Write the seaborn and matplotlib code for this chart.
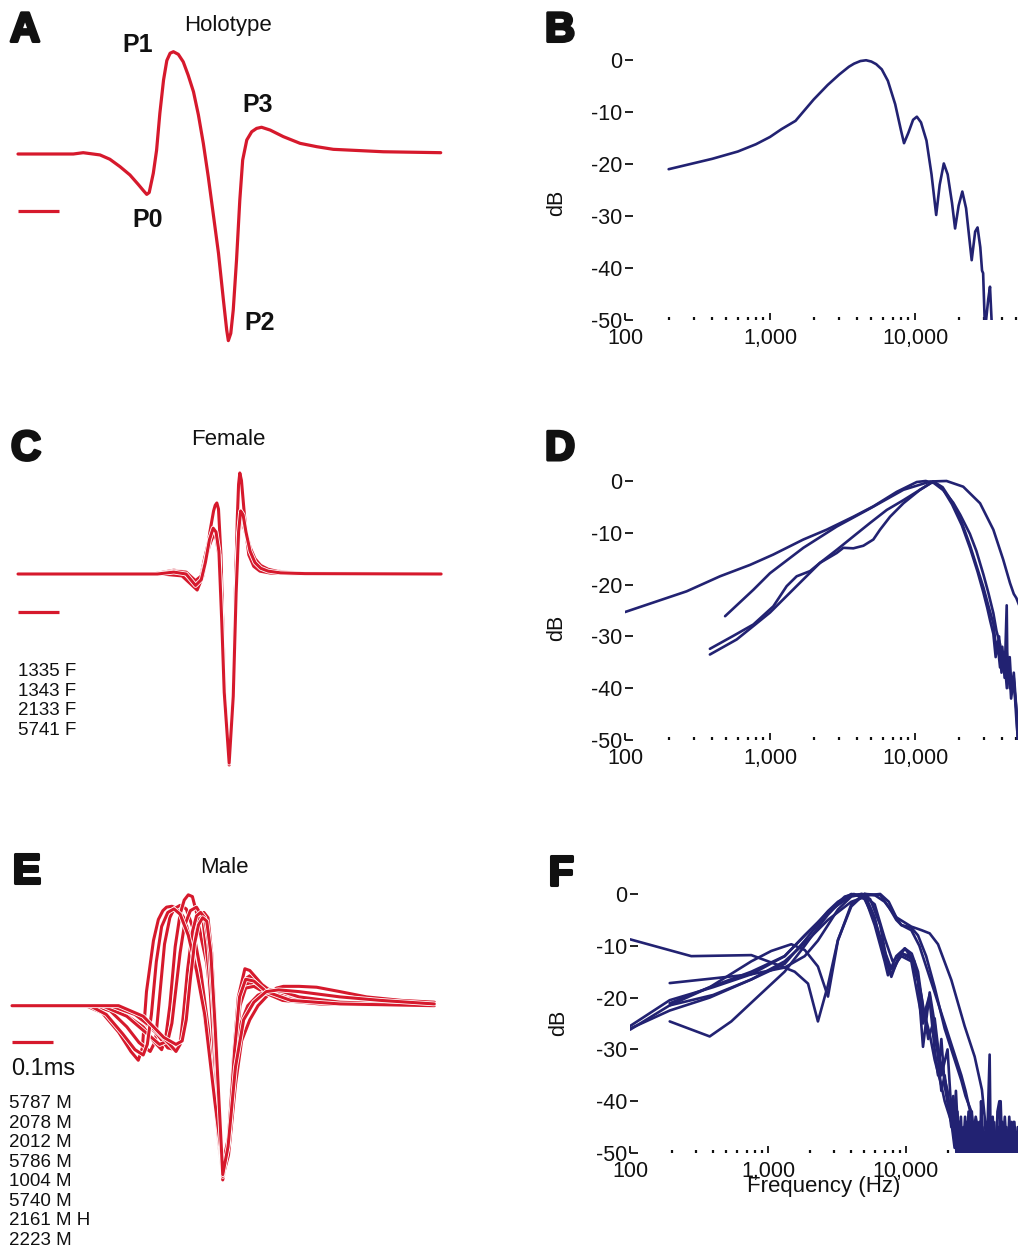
import numpy as np
import pandas as pd
import matplotlib
matplotlib.use("Agg")
import matplotlib.pyplot as plt
import matplotlib.patheffects as pe
from matplotlib.ticker import FixedLocator, LogLocator, NullFormatter, FuncFormatter
import seaborn as sns

# ---------------------------------------------------------------- data
panel_letters = ["A", "B", "C", "D", "E", "F"]
wave_titles = ["Holotype", "Female", "Male"]
peak_labels = ["P0", "P1", "P2", "P3"]
peak_label_t = [0.317, 0.293, 0.590, 0.585]
peak_label_a = [-0.353, 0.583, -0.904, 0.262]
female_ids = ["1335 F", "1343 F", "2133 F", "5741 F"]
male_ids = ["5787 M", "2078 M", "2012 M", "5786 M", "1004 M", "5740 M", "2161 M H", "2223 M"]
scale_bar_ms = 0.1
scale_bar_text = "0.1ms"
freq_ticks = [100, 1000, 10000, 100000]
db_ticks = [0, -10, -20, -30, -40, -50]

# Panel A: holotype waveform (time in ms, amplitude relative to P2)
holo_t = [0.0, 0.135, 0.159, 0.2, 0.224, 0.249, 0.273, 0.293, 0.306, 0.314, 0.320, 0.330, 0.338,
          0.346, 0.355, 0.363, 0.371, 0.379, 0.391, 0.403, 0.415, 0.428, 0.440, 0.452, 0.464,
          0.476, 0.489, 0.501, 0.509, 0.513, 0.519, 0.525, 0.533, 0.541, 0.548, 0.558, 0.570,
          0.582, 0.594, 0.615, 0.647, 0.688, 0.729, 0.769, 0.891, 1.031]
holo_a = [0.0, 0.0, 0.007, -0.005, -0.028, -0.068, -0.112, -0.162, -0.196, -0.216, -0.206, -0.103,
          0.02, 0.218, 0.396, 0.50, 0.539, 0.547, 0.533, 0.493, 0.422, 0.333, 0.209, 0.057, -0.121,
          -0.317, -0.531, -0.781, -0.941, -0.998, -0.959, -0.834, -0.567, -0.246, -0.032, 0.075,
          0.119, 0.137, 0.143, 0.128, 0.093, 0.057, 0.039, 0.025, 0.012, 0.007]

# Panel B: holotype spectrum
holo_hz = [200, 400, 600, 800, 1000, 1200, 1500, 2000, 2500, 3000, 3500, 3800, 4200, 4600, 5000,
           5400, 5900, 6500, 7300, 8000, 8400, 9000, 9700, 10300, 11000, 12000, 13000, 14000, 14800,
           15800, 16800, 18000, 18900, 20000, 21200, 22500, 24600, 26000, 27000, 28200, 29000,
           29500, 30400, 32000, 32900, 34000]
holo_db = [-21.0, -19.0, -17.6, -16.2, -14.8, -13.3, -11.7, -7.6, -4.8, -2.8, -1.3, -0.7, -0.2,
           -0.05, -0.3, -0.8, -1.8, -4.0, -8.5, -13.5, -16.0, -14.0, -11.5, -10.9, -12.0, -15.5,
           -22.0, -29.8, -24.0, -19.9, -22.0, -27.5, -32.4, -28.0, -25.3, -28.5, -38.5, -33.0,
           -32.2, -36.0, -40.5, -41.0, -52.0, -46.0, -43.6, -52.0]

# Panel C: female waveforms
f1_t = [0.0, 0.35, 0.40, 0.42, 0.437, 0.451, 0.46, 0.468, 0.477, 0.481, 0.485, 0.489, 0.495, 0.50,
        0.505, 0.515, 0.524, 0.53, 0.535, 0.538, 0.541, 0.545, 0.551, 0.557, 0.563, 0.575, 0.59,
        0.615, 0.70, 1.032]
f1_a = [0.0, 0.0, -0.01, -0.05, -0.084, -0.01, 0.10, 0.22, 0.33, 0.36, 0.372, 0.34, 0.10, -0.30,
        -0.66, -1.0, -0.66, -0.10, 0.30, 0.47, 0.529, 0.49, 0.34, 0.20, 0.10, 0.04, 0.015, 0.005,
        0.0, 0.0]
f2_t = [0.0, 0.33, 0.38, 0.41, 0.432, 0.445, 0.455, 0.465, 0.475, 0.482, 0.49, 0.497, 0.503, 0.515,
        0.525, 0.532, 0.538, 0.544, 0.55, 0.56, 0.572, 0.585, 0.60, 0.62, 0.65, 0.70, 1.032]
f2_a = [0.0, 0.0, 0.02, 0.01, -0.05, -0.02, 0.08, 0.17, 0.22, 0.20, 0.10, -0.25, -0.60, -0.97,
        -0.62, -0.10, 0.20, 0.28, 0.25, 0.18, 0.10, 0.06, 0.035, 0.02, 0.01, 0.005, 0.0]
f3_t = [0.0, 0.34, 0.38, 0.41, 0.433, 0.447, 0.457, 0.467, 0.476, 0.483, 0.49, 0.497, 0.503, 0.515,
        0.525, 0.532, 0.538, 0.543, 0.549, 0.556, 0.566, 0.578, 0.592, 0.61, 0.64, 0.70, 1.032]
f3_a = [0.0, 0.0, 0.015, 0.01, -0.035, -0.01, 0.07, 0.15, 0.20, 0.19, 0.10, -0.25, -0.60, -0.98,
        -0.62, -0.10, 0.18, 0.30, 0.29, 0.22, 0.14, 0.08, 0.045, 0.025, 0.01, 0.003, 0.0]
f4_t = [0.0, 0.34, 0.38, 0.41, 0.433, 0.447, 0.457, 0.467, 0.476, 0.483, 0.49, 0.497, 0.503, 0.515,
        0.525, 0.532, 0.538, 0.543, 0.549, 0.556, 0.566, 0.578, 0.592, 0.61, 0.64, 0.70, 1.032]
f4_a = [0.0, 0.0, 0.01, 0.0, -0.06, -0.03, 0.06, 0.18, 0.24, 0.22, 0.12, -0.25, -0.62, -0.99,
        -0.64, -0.10, 0.22, 0.33, 0.31, 0.22, 0.12, 0.06, 0.03, 0.015, 0.006, 0.002, 0.0]

# Panel D: female spectra
fs1_hz = [100, 266, 452, 728, 1054, 1698, 2460, 3756, 5160, 7480, 10280, 11860, 13500, 15700, 18370,
          20500, 23900, 26500, 29600, 32000, 34700, 36500, 38600, 40500, 42900, 45000, 47700, 50000, 53000]
fs1_db = [-25.3, -21.3, -18.4, -16.2, -14.2, -11.3, -9.4, -6.9, -4.9, -2.1, -0.2, 0.0, -0.4, -1.8, -4.2,
          -6.5, -10.2, -13.5, -18.0, -21.5, -25.5, -29.0, -31.5, -35.0, -33.0, -40.0, -38.0, -44.0, -52.0]
fs2_hz = [490, 768, 1000, 1698, 2884, 4900, 8320, 12760, 16500, 21500, 28100, 34700, 40600, 45200,
          48000, 50000, 54000]
fs2_db = [-26.1, -21.0, -17.8, -12.9, -8.8, -5.3, -1.7, -0.1, 0.0, -1.1, -4.3, -9.4, -15.2, -19.7,
          -21.8, -22.6, -25.0]
fs3_hz = [385, 558, 768, 1054, 1303, 1527, 1888, 2213, 2884, 3206, 3756, 4405, 5160, 5740, 6730, 8320,
          10830, 13370, 15500, 18000, 21000, 24000, 27000, 29600, 31500, 33000, 34700, 36000, 37000,
          38600, 40000, 41500, 42900, 43500, 45000, 46500, 48000, 50000, 52000]
fs3_db = [-32.4, -29.9, -27.7, -24.2, -20.3, -18.4, -17.4, -15.8, -13.9, -12.9, -13.0, -12.5, -11.3,
          -9.4, -6.9, -4.3, -1.7, -0.1, -1.5, -4.5, -8.5, -13.0, -17.5, -21.5, -24.5, -27.0, -29.5,
          -34.0, -31.0, -36.0, -32.0, -38.0, -24.0, -39.0, -34.0, -41.0, -37.0, -44.0, -55.0]
fs4_hz = [385, 589, 768, 1000, 1303, 1698, 2213, 2884, 3756, 4900, 6380, 8320, 10830, 13370, 15500,
          18000, 21000, 24000, 27000, 29600, 32000, 34700, 36500, 38000, 39500, 41000, 43000, 44500,
          46000, 48000, 50000, 52000]
fs4_db = [-33.5, -30.6, -28.0, -25.4, -22.2, -19.0, -15.8, -13.3, -10.7, -8.1, -5.6, -3.7, -1.7, -0.1,
          -1.2, -4.0, -8.0, -12.5, -17.0, -20.5, -24.0, -27.5, -33.0, -30.0, -37.0, -33.0, -40.0, -35.0,
          -42.0, -38.0, -46.0, -52.0]

# Panel E: male waveforms
m1_t = [0.0, 0.18, 0.22, 0.26, 0.29, 0.308, 0.318, 0.328, 0.345, 0.357, 0.368, 0.377, 0.39, 0.405,
        0.422, 0.442, 0.467, 0.491, 0.505, 0.514, 0.522, 0.533, 0.545, 0.555, 0.568, 0.58, 0.60,
        0.64, 0.70, 0.80, 1.03]
m1_a = [0.0, 0.0, -0.04, -0.15, -0.26, -0.31, -0.24, 0.08, 0.37, 0.49, 0.54, 0.56, 0.565, 0.55,
        0.49, 0.30, -0.02, -0.45, -0.80, -0.96, -0.90, -0.55, -0.15, 0.05, 0.15, 0.17, 0.14, 0.07,
        0.03, 0.01, 0.0]
m2_t = [0.0, 0.20, 0.24, 0.28, 0.31, 0.337, 0.35, 0.36, 0.372, 0.385, 0.395, 0.41, 0.425, 0.44,
        0.46, 0.48, 0.497, 0.514, 0.528, 0.545, 0.555, 0.568, 0.58, 0.61, 0.65, 0.75, 1.03]
m2_a = [0.0, 0.0, -0.03, -0.12, -0.21, -0.26, -0.20, 0.05, 0.35, 0.50, 0.55, 0.57, 0.55, 0.45,
        0.20, -0.15, -0.60, -0.97, -0.80, -0.25, 0.03, 0.12, 0.13, 0.09, 0.04, 0.01, 0.0]
m3_t = [0.0, 0.22, 0.27, 0.32, 0.345, 0.365, 0.375, 0.385, 0.398, 0.41, 0.42, 0.43, 0.44, 0.45,
        0.462, 0.475, 0.487, 0.497, 0.506, 0.514, 0.525, 0.54, 0.552, 0.568, 0.58, 0.61, 0.65,
        0.75, 1.03]
m3_a = [0.0, 0.0, -0.04, -0.12, -0.20, -0.25, -0.18, 0.0, 0.335, 0.52, 0.60, 0.63, 0.62, 0.53,
        0.38, 0.24, 0.0, -0.35, -0.75, -0.99, -0.85, -0.30, 0.05, 0.21, 0.20, 0.12, 0.05, 0.01, 0.0]
m4_t = [0.0, 0.25, 0.30, 0.35, 0.38, 0.40, 0.41, 0.42, 0.435, 0.447, 0.458, 0.468, 0.478, 0.487,
        0.497, 0.506, 0.514, 0.528, 0.545, 0.56, 0.58, 0.60, 0.62, 0.645, 0.662, 0.70, 0.743, 0.80,
        0.865, 0.95, 1.03]
m4_a = [0.0, 0.0, -0.05, -0.15, -0.24, -0.25, -0.20, -0.05, 0.25, 0.45, 0.52, 0.53, 0.50, 0.30,
        -0.15, -0.60, -0.97, -0.85, -0.45, -0.20, -0.08, 0.0, 0.05, 0.10, 0.11, 0.11, 0.105, 0.08,
        0.05, 0.03, 0.02]
m5_t = [0.0, 0.22, 0.28, 0.33, 0.36, 0.38, 0.39, 0.40, 0.41, 0.42, 0.435, 0.45, 0.465, 0.48, 0.497,
        0.514, 0.528, 0.545, 0.556, 0.57, 0.59, 0.62, 0.66, 0.75, 1.03]
m5_a = [0.0, 0.0, -0.06, -0.16, -0.22, -0.20, -0.10, 0.10, 0.30, 0.45, 0.54, 0.56, 0.50, 0.20,
        -0.40, -0.93, -0.78, -0.30, 0.0, 0.10, 0.11, 0.07, 0.03, 0.01, 0.0]
m6_t = [0.0, 0.24, 0.30, 0.35, 0.385, 0.40, 0.41, 0.418, 0.428, 0.44, 0.45, 0.46, 0.47, 0.48, 0.492,
        0.503, 0.514, 0.526, 0.54, 0.555, 0.575, 0.60, 0.63, 0.66, 0.70, 0.80, 1.03]
m6_a = [0.0, 0.0, -0.05, -0.14, -0.22, -0.26, -0.22, -0.05, 0.20, 0.42, 0.51, 0.53, 0.50, 0.35,
        -0.05, -0.55, -0.95, -0.80, -0.40, -0.12, 0.0, 0.06, 0.09, 0.08, 0.05, 0.02, 0.0]
m7_t = [0.0, 0.19, 0.23, 0.27, 0.30, 0.32, 0.33, 0.34, 0.352, 0.365, 0.38, 0.395, 0.41, 0.43, 0.45,
        0.47, 0.495, 0.514, 0.528, 0.543, 0.555, 0.57, 0.59, 0.62, 0.68, 0.80, 1.03]
m7_a = [0.0, 0.0, -0.05, -0.16, -0.25, -0.28, -0.22, -0.05, 0.25, 0.45, 0.53, 0.55, 0.52, 0.40,
        0.20, -0.05, -0.55, -0.90, -0.75, -0.25, 0.05, 0.15, 0.14, 0.08, 0.03, 0.01, 0.0]
m8_t = [0.0, 0.26, 0.32, 0.37, 0.40, 0.415, 0.425, 0.435, 0.445, 0.455, 0.465, 0.475, 0.485, 0.495,
        0.505, 0.514, 0.527, 0.545, 0.565, 0.59, 0.62, 0.65, 0.70, 0.80, 0.90, 1.03]
m8_a = [0.0, 0.0, -0.06, -0.18, -0.22, -0.20, -0.08, 0.15, 0.35, 0.46, 0.50, 0.48, 0.30, -0.10,
        -0.55, -0.96, -0.80, -0.35, -0.08, 0.02, 0.08, 0.09, 0.08, 0.05, 0.03, 0.01]

# Panel F: male spectra
ms1_hz = [100, 278, 757, 1180, 1560, 1950, 2300, 2720, 3210, 4015, 5010, 5930, 7000, 7830, 9250, 10930,
          12220, 13280, 14840, 16130, 18040, 19070, 21310] + \
         [22500, 23500, 24500, 25500, 26500, 27500, 28500, 29500, 31000, 32500, 34000, 35500, 37000,
          39000, 41000, 43000, 45000, 47500, 50000, 52500, 55000, 58000, 61000, 64000, 67000]
ms1_db = [-8.75, -12.0, -11.8, -13.7, -15.0, -17.3, -24.6, -17.6, -8.9, -2.4, 0.0, -4.5, -12.5, -15.5,
          -11.5, -12.5, -17.0, -29.5, -19.0, -25.0, -38.0, -35.0, -45.0] + \
         [-40, -52, -44, -53, -45, -52, -43, -54, -46, -53, -44, -55, -46, -53, -45, -55, -47, -54,
          -44, -55, -47, -54, -45, -55, -48]
ms2_hz = [100, 194, 378, 757, 1320, 1845, 2300, 2720, 3210, 4015, 5010, 5930, 7000, 7400, 8500, 9800,
          11500, 13000, 14500, 16130, 18040, 20000, 21310] + \
         [22200, 23000, 24200, 25200, 26300, 27400, 28700, 30000, 31300, 32800, 34300, 35800, 37500,
          39500, 41500, 43500, 46000, 48500, 51000, 54000, 57000, 60000, 63000, 66000]
ms2_db = [-26.2, -21.5, -18.0, -15.0, -12.0, -8.0, -5.5, -3.3, -1.5, 0.0, -0.5, -6.0, -13.0, -15.7,
          -12.0, -10.5, -13.0, -20.0, -28.0, -24.0, -35.0, -30.0, -42.0] + \
         [-47, -38, -50, -47, -54, -44, -53, -42, -52, -47, -55, -45, -52, -43, -54, -46, -53, -44,
          -55, -46, -53, -44, -55, -47]
ms3_hz = [100, 194, 378, 757, 1320, 1845, 2720, 3600, 4200, 5010, 5930, 7000, 7830, 9250, 10930, 12220,
          13280, 14840, 16130, 17060, 18040, 19070, 20500, 22000] + \
         [23000, 24000, 25000, 26000, 27000, 28000, 29000, 30500, 32000, 33500, 35000, 36500, 38000,
          40000, 42000, 44000, 46500, 49000, 51500, 54500, 57500, 60500, 63500, 67000]
ms3_db = [-26.0, -22.5, -20.0, -16.5, -13.5, -9.0, -3.5, -0.5, 0.0, -1.0, -5.0, -11.0, -14.5, -12.0,
          -13.0, -20.0, -25.0, -20.5, -30.0, -35.0, -28.0, -37.0, -42.0, -39.0] + \
         [-45, -51, -43, -55, -46, -52, -44, -55, -45, -53, -47, -54, -44, -55, -47, -53, -45, -55,
          -46, -54, -45, -55, -46, -54]
ms4_hz = [194, 400, 757, 1320, 1845, 2300, 2720, 3210, 4015, 5010, 6000, 7000, 8500, 10930, 13000,
          14840, 17060, 21310, 26600, 31450, 35500] + \
         [37150, 38500, 40370, 41000, 42500, 44000, 45500, 47000, 48500, 50000, 52000, 54000, 56000,
          58500, 61000, 64000, 67000]
ms4_db = [-17.2, -16.3, -15.5, -14.2, -12.0, -9.0, -6.0, -3.0, -0.5, 0.0, -0.3, -1.5, -4.5, -6.3, -7.0,
          -7.6, -9.7, -16.6, -25.5, -31.4, -37.8] + \
         [-43, -50, -31, -47, -43, -52, -44, -53, -40, -51, -45, -53, -43, -52, -44, -53, -46]
ms5_hz = [194, 378, 757, 1056, 1475, 1845, 2300, 2720, 3210, 4015, 5010, 6500, 7500, 8500, 9250, 10930,
          12220, 14000, 16130, 19070, 21310, 25180, 27000, 29750] + \
         [31000, 32000, 33000, 34500, 35000, 36000, 37150, 38500, 40000, 41500, 43000, 44500, 46000,
          47500, 49000, 51000, 53000, 55500, 58000, 60500, 63000, 66000]
ms5_db = [-21.1, -18.0, -13.0, -11.0, -9.7, -10.8, -14.0, -19.8, -9.0, -2.0, 0.0, -0.2, -2.5, -5.0,
          -6.0, -6.5, -8.0, -12.0, -18.0, -26.0, -30.0, -36.0, -39.0, -42.0] + \
         [-46, -43, -45, -52, -40, -48, -46, -54, -44, -52, -45, -54, -42, -40, -52, -45, -54, -46,
          -53, -45, -54, -47]
ms6_hz = [194, 378, 542, 845, 1320, 1845, 2300, 2720, 3210, 4015, 4800, 5500, 6500, 7400, 7830, 8600,
          9800, 11000, 12220, 13280, 14840, 16130, 18040, 19070, 21310] + \
         [22500, 23600, 24800, 26000, 27200, 28400, 29700, 31200, 32700, 34200, 36000, 38000, 40000,
          42000, 44500, 47000, 49500, 52000, 55000, 58000, 61000, 64500, 67000]
ms6_db = [-24.6, -27.5, -24.6, -19.8, -15.0, -10.0, -6.5, -4.0, -2.0, -0.3, 0.0, -1.0, -6.0, -14.0,
          -16.0, -13.0, -10.5, -11.5, -15.0, -22.0, -27.0, -32.0, -37.0, -40.0, -44.0] + \
         [-49, -42, -53, -45, -52, -42, -54, -45, -52, -44, -54, -46, -52, -44, -55, -45, -52, -43,
          -54, -46, -53, -45, -54]
ms7_hz = [100, 194, 400, 757, 1320, 1845, 2720, 4015, 4800, 5930, 7000, 8000, 9250, 10930, 12220, 13280,
          14840, 16130, 18040, 20000] + \
         [21000, 22000, 23200, 24400, 25600, 26800, 28000, 29300, 30700, 32200, 33800, 35400, 37200,
          39200, 41200, 43200, 45500, 48000, 50500, 53500, 56500, 59500, 62500, 66000]
ms7_db = [-25.5, -20.5, -18.0, -15.5, -12.0, -8.0, -3.5, -0.3, 0.0, -2.0, -8.5, -13.0, -11.5, -12.0,
          -16.0, -24.0, -19.5, -28.0, -33.0, -38.0] + \
         [-43, -40, -50, -44, -52, -43, -53, -45, -54, -46, -52, -43, -55, -45, -53, -44, -54, -46,
          -53, -45, -55, -46, -54, -45]
ms8_hz = [194, 400, 757, 1320, 1845, 2720, 4015, 5500, 6500, 7500, 8500, 9250, 10930, 12500, 14000,
          16130, 19070, 21310, 25180, 27000, 29750] + \
         [31000, 32500, 34000, 35500, 37000, 38500, 40000, 41500, 43000, 44800, 46500, 48500, 50500,
          53000, 55500, 58000, 61000, 64000, 67000]
ms8_db = [-21.5, -19.5, -16.5, -13.0, -9.5, -5.0, -1.5, -0.2, 0.0, -1.5, -4.5, -6.0, -7.0, -10.0,
          -14.0, -19.0, -25.0, -29.0, -35.0, -38.0, -43.0] + \
         [-47, -44, -52, -46, -54, -45, -52, -44, -55, -46, -53, -44, -55, -46, -53, -44, -55, -46, -53]

holotype_waves = [(holo_t, holo_a)]
female_waves = [(f1_t, f1_a), (f2_t, f2_a), (f3_t, f3_a), (f4_t, f4_a)]
male_waves = [(m1_t, m1_a), (m2_t, m2_a), (m3_t, m3_a), (m4_t, m4_a),
              (m5_t, m5_a), (m6_t, m6_a), (m7_t, m7_a), (m8_t, m8_a)]
holotype_specs = [(holo_hz, holo_db)]
female_specs = [(fs1_hz, fs1_db), (fs2_hz, fs2_db), (fs3_hz, fs3_db), (fs4_hz, fs4_db)]
male_specs = [(ms1_hz, ms1_db), (ms2_hz, ms2_db), (ms3_hz, ms3_db), (ms4_hz, ms4_db),
              (ms5_hz, ms5_db), (ms6_hz, ms6_db), (ms7_hz, ms7_db), (ms8_hz, ms8_db)]

# ---------------------------------------------------------------- style
sns.set_style("white")
plt.rcParams["font.family"] = ["Liberation Sans", "DejaVu Sans"]
plt.rcParams["axes.unicode_minus"] = False

RED = "#d6192c"
NAVY = "#222272"
INK = "#111111"

W, H = 1018, 1247
fig = plt.figure(figsize=(W / 100, H / 100), dpi=100)
fig.patch.set_facecolor("white")


def px_axes(x0, y0, x1, y1):
    return fig.add_axes([x0 / W, 1 - y1 / H, (x1 - x0) / W, (y1 - y0) / H])


def fig_text(x, y, s, **kw):
    return fig.text(x / W, 1 - y / H, s, **kw)


def long_frame(curves, xname, yname):
    frames = [pd.DataFrame({xname: x, yname: y, "unit": i}) for i, (x, y) in enumerate(curves)]
    return pd.concat(frames, ignore_index=True)


def wave_panel(box, ylim, traces, bar_level, lw, outline):
    ax = px_axes(*box)
    df = long_frame(traces, "t", "a")
    sns.lineplot(data=df, x="t", y="a", units="unit", estimator=None, sort=False,
                 color=RED, lw=lw, ax=ax, legend=False)
    for ln in ax.lines:
        ln.set_solid_joinstyle("round")
        ln.set_solid_capstyle("round")
        if outline:
            ln.set_path_effects([pe.Stroke(linewidth=lw + 1.2, foreground="white"), pe.Normal()])
    ax.plot([0, scale_bar_ms], [bar_level, bar_level], color=RED, lw=2.3, solid_capstyle="butt")
    ax.set_xlim(-0.02, 1.06)
    ax.set_ylim(*ylim)
    ax.axis("off")
    return ax


def spec_panel(box, xmax, curves, ylabel_xy, xlabel_xy=None):
    ax = px_axes(*box)
    ax.set_xscale("log")
    df = long_frame(curves, "hz", "db")
    sns.lineplot(data=df, x="hz", y="db", units="unit", estimator=None, sort=False,
                 color=NAVY, lw=1.9, ax=ax, legend=False)
    for ln in ax.lines:
        ln.set_solid_joinstyle("round")
    ax.set_xlim(100, xmax)
    ax.set_ylim(-50, 1)
    for s in ax.spines.values():
        s.set_visible(False)
    ax.xaxis.set_major_locator(FixedLocator(freq_ticks))
    ax.xaxis.set_major_formatter(FuncFormatter(lambda v, p: f"{v:,.0f}"))
    ax.xaxis.set_minor_locator(LogLocator(base=10, subs=np.arange(2, 10), numticks=50))
    ax.xaxis.set_minor_formatter(NullFormatter())
    ax.set_yticks(db_ticks, labels=[str(v) for v in db_ticks])
    ax.tick_params(axis="both", which="major", direction="in", width=1.3, color=INK,
                   labelsize=15.5, labelcolor=INK, bottom=True, left=True)
    ax.tick_params(axis="x", which="major", length=5, pad=5.5)
    ax.tick_params(axis="y", which="major", length=6, pad=2)
    ax.tick_params(axis="x", which="minor", direction="in", length=2.5, width=1.6,
                   color=INK, bottom=True)
    ax.tick_params(axis="y", which="minor", left=False)
    ax.grid(False)
    ax.set_ylabel("dB", fontsize=15.5, color=INK, va="center")
    ax.yaxis.set_label_coords(*ylabel_xy)
    if xlabel_xy is not None:
        ax.set_xlabel("Frequency (Hz)", fontsize=16, color=INK, va="center")
        ax.xaxis.set_label_coords(*xlabel_xy)
    else:
        ax.set_xlabel("")
    return ax


# ---------------------------------------------------------------- panels
axA = wave_panel((9.8, 32.45, 452.6, 369.05), (-1.15, 0.65), holotype_waves, -0.305, 2.3, False)
for lab, t, a in zip(peak_labels, peak_label_t, peak_label_a):
    axA.text(t, a, lab, fontsize=18, fontweight="bold", ha="center", va="center", color=INK)

axC = wave_panel((9.8, 459.4, 452.6, 784.1), (-1.1, 0.6), female_waves, -0.197, 2.2, True)
axE = wave_panel((3.8, 882.5, 446.6, 1199.3), (-1.1, 0.7), male_waves, -0.206, 2.2, True)

xmax_bd = 10 ** (2 + 393 / 145)
xmax_f = 10 ** (2 + 388 / 138)
axB = spec_panel((625, 54.8, 1018, 320), xmax_bd, holotype_specs, (-0.173, 0.441))
axD = spec_panel((625, 475.8, 1018, 740), xmax_bd, female_specs, (-0.173, 0.424))
axF = spec_panel((630, 888.8, 1018, 1153), xmax_f, male_specs, (-0.183, 0.493),
                 xlabel_xy=(0.5, -0.125))

# ---------------------------------------------------------------- texts
letter_pos = [(10, 41.5), (545, 41.5), (11, 460), (545, 460), (12.5, 883), (548, 885)]
for letter, (x, y) in zip(panel_letters, letter_pos):
    fig_text(x, y, letter, fontsize=30, fontweight="black", color=INK, ha="left", va="baseline",
             path_effects=[pe.withStroke(linewidth=2.2, foreground=INK)])

title_pos = [(228, 31), (228.7, 445), (224, 873)]
for title, (x, y) in zip(wave_titles, title_pos):
    fig_text(x, y, title, fontsize=16, color=INK, ha="center", va="baseline")

for i, lab in enumerate(female_ids):
    fig_text(18, 676 + i * 19.6, lab, fontsize=13.5, color=INK, ha="left", va="baseline")
for i, lab in enumerate(male_ids):
    fig_text(9, 1108.3 + i * 19.5, lab, fontsize=13.5, color=INK, ha="left", va="baseline")

fig_text(11.5, 1075, scale_bar_text, fontsize=17, color=INK, ha="left", va="baseline")

fig.savefig("out.png", dpi=100, facecolor="white")
